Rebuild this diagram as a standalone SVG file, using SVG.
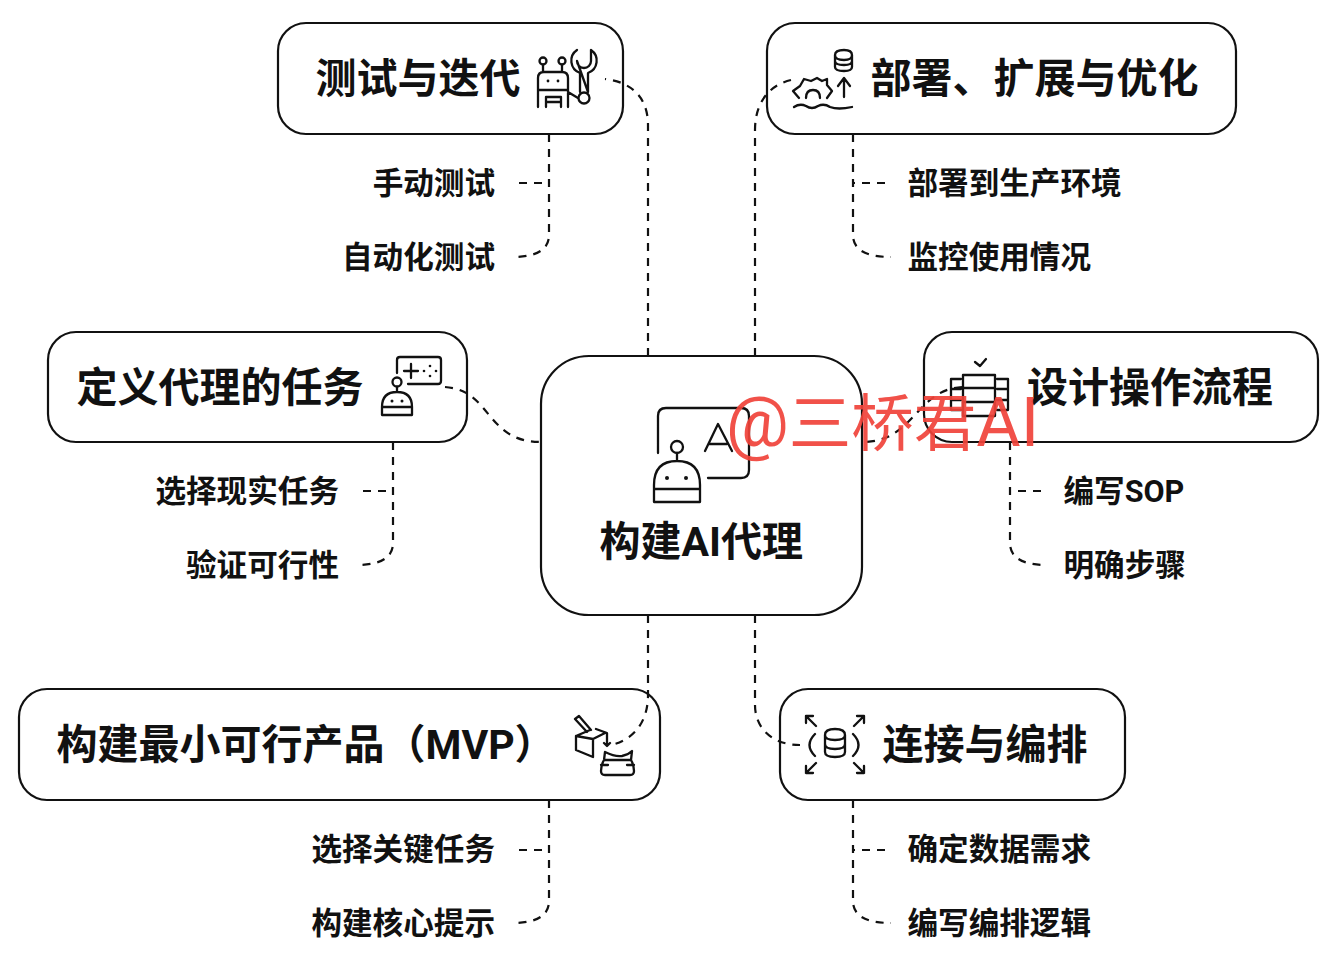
<svg xmlns="http://www.w3.org/2000/svg" width="1334" height="966" viewBox="0 0 1334 966">
<style>
.box{fill:#fff;stroke:#111;stroke-width:2.2}
.dash{fill:none;stroke:#111;stroke-width:2.2;stroke-dasharray:8 7}
.ic{fill:none;stroke:#111;stroke-width:2.3;stroke-linecap:round;stroke-linejoin:round}
.dot{fill:#111}
text{font-family:"Roboto","Noto Sans CJK SC",sans-serif;fill:#111}
.t{font-size:41px;font-weight:700}
.l{font-size:30.6px;font-weight:700}
.wm{font-family:"Roboto","Noto Sans CJK SC",sans-serif;font-size:62.500px;font-weight:400;fill:#f0433a;opacity:.92}
</style>
<rect width="1334" height="966" fill="#fff"/>
<g id="n-test"><rect class="box" x="278" y="23" width="345" height="111" rx="28"/><text class="t" x="315.500" y="93">测试与迭代</text>
<g class="ic"><circle cx="543" cy="61" r="3.500"/><circle cx="562" cy="61" r="3.500"/><path d="M543 65V72M562 65V72M538 107V78Q538 72 544 72H562Q568 72 568 78V107M538 90H568M546 107V97H561V107M546 102H561M568 92L578 98"/><circle cx="584" cy="98" r="5.500"/><path d="M577 50A13 13 0 0 0 580 73V92M588 92V73A13 13 0 0 0 591 50V61A7 7 0 0 1 577 61Z"/></g>
<circle class="dot" cx="548" cy="81" r="1.400"/><circle class="dot" cx="558" cy="81" r="1.400"/></g>
<g id="n-deploy"><rect class="box" x="767" y="23" width="469" height="111" rx="28"/><text class="t" x="870.500" y="93">部署、扩展与优化</text>
<g class="ic"><path d="M835 55Q835 50 844 50Q852 50 852 55V67Q852 71 844 71Q835 71 835 67ZM835 55Q835 60 844 60Q852 60 852 55M835 61Q835 65 844 65Q852 65 852 61M844 97V79M838 86L844 78L850 86M794 107Q800 103 806 106Q812 110 818 106Q824 103 830 107Q838 110 852 107M799 98L793 91L800 86L804 79L811 81L817 78L822 81L827 79L827 85L832 91L827 98M806 98Q806 90 813 90Q820 90 820 98"/></g></g>
<g id="n-define"><rect class="box" x="48" y="332" width="419" height="110" rx="28"/><text class="t" x="76.500" y="402">定义代理的任务</text>
<g class="ic"><path d="M397 373V360Q397 357 400 357H438Q441 357 441 360V381Q441 384 438 384H408M404 371H418M411 364V378"/><circle cx="397" cy="382" r="4.500"/><path d="M397 387V392M382 415V407Q382 392 397 392Q412 392 412 407V415ZM382 407H412"/></g>
<circle class="dot" cx="392" cy="401" r="1.500"/><circle class="dot" cx="402" cy="401" r="1.500"/><circle class="dot" cx="424" cy="371" r="1.300"/><circle class="dot" cx="436" cy="371" r="1.300"/><circle class="dot" cx="430" cy="366" r="1.300"/><circle class="dot" cx="430" cy="376" r="1.300"/></g>
<g id="n-design"><rect class="box" x="924" y="332" width="394" height="110" rx="28"/><text class="t" x="1027" y="402">设计操作流程</text>
<g class="ic"><rect x="963" y="375" width="32" height="41"/><path d="M963 388H995M963 402H995M975 362L980 366L986 359M961 379H951V410H961M951 389H961M951 400H961M997 379H1008V410H997M997 389H1008M997 400H1008"/></g></g>
<g id="n-mvp"><rect class="box" x="19" y="689" width="641" height="111" rx="28"/><text class="t" x="56.500" y="759">构建最小可行产品（MVP）</text>
<g class="ic"><path d="M590 730L576 736V750L593 757V739L576 736M593 739L605 733M591 730L579 716L575 719L587 732M596 729L607 733V745M604 743L607 746L610 743M605 752Q615 757 622 756Q628 755 632 751L631 760Q634 765 634 771Q634 775 630 775H605Q601 775 601 771Q601 765 604 760ZM601 765H608M627 765H634M604 760H631"/></g></g>
<g id="n-connect"><rect class="box" x="780" y="689" width="345" height="111" rx="28"/><text class="t" x="882.500" y="759">连接与编排</text>
<g class="ic"><path d="M825 735Q825 729 835 729Q845 729 845 735V752Q845 757 835 757Q825 757 825 752ZM825 735Q825 740 835 740Q845 740 845 735M825 744Q825 749 835 749Q845 749 845 744M815 734Q804 745 815 756M853 734Q864 745 853 756M806 716L816 726M806 716V723M806 716H813M864 716L854 726M864 716V723M864 716H857M806 773L816 763M806 773V766M806 773H813M864 773L854 763M864 773V766M864 773H857"/></g></g>
<g id="n-center"><rect class="box" x="541" y="356" width="321" height="259" rx="48"/><text class="t" x="599.500" y="556">构建AI代理</text>
<g class="ic"><path d="M658 453V416Q658 408 666 408H741Q749 408 749 416V470Q749 478 741 478H708M705 451L718 424L732 451M709 444H727"/><circle cx="677" cy="447" r="6"/><path d="M677 453V461M654 502V485Q654 461 677 461Q700 461 700 485V502ZM654 489H700"/></g>
<circle class="dot" cx="667" cy="478" r="2"/><circle class="dot" cx="686" cy="478" r="2"/></g>
<g id="connectors">
<path class="dash" d="M648 356V125C648 98 632 82 605 79"/>
<path class="dash" d="M755 356V130C755 100 772 82 797 79"/>
<path class="dash" d="M445 387C492 390 485 442 541 442"/>
<path class="dash" d="M962 387C915 390 915 442 862 442"/>
<path class="dash" d="M648 615V695C648 722 634 738 615 744"/>
<path class="dash" d="M755 615V705C755 728 772 745 800 745"/>
<path class="dash" d="M549 134V235Q549 257 512 257"/><path class="dash" d="M519 183H549"/>
<path class="dash" d="M853 134V235Q853 257 891 257"/><path class="dash" d="M885 183H853"/>
<path class="dash" d="M393 442V543Q393 565 356 565"/><path class="dash" d="M363 491H393"/>
<path class="dash" d="M1010 442V543Q1010 565 1047 565"/><path class="dash" d="M1041 491H1010"/>
<path class="dash" d="M549 800V901Q549 923 512 923"/><path class="dash" d="M519 850H549"/>
<path class="dash" d="M853 800V901Q853 923 891 923"/><path class="dash" d="M885 850H853"/>
</g>
<g id="leaves">
<text class="l" x="495" y="194" text-anchor="end">手动测试</text>
<text class="l" x="495" y="268" text-anchor="end">自动化测试</text>
<text class="l" x="907.500" y="194">部署到生产环境</text>
<text class="l" x="907.500" y="268">监控使用情况</text>
<text class="l" x="339" y="502" text-anchor="end">选择现实任务</text>
<text class="l" x="339" y="576" text-anchor="end">验证可行性</text>
<text class="l" x="1063.500" y="502">编写SOP</text>
<text class="l" x="1063.500" y="576">明确步骤</text>
<text class="l" x="495" y="860" text-anchor="end">选择关键任务</text>
<text class="l" x="495" y="934" text-anchor="end">构建核心提示</text>
<text class="l" x="907.500" y="860">确定数据需求</text>
<text class="l" x="907.500" y="934">编写编排逻辑</text>
</g>
<text class="wm" x="726" y="446"><tspan font-size="70">@</tspan>三桥君<tspan font-size="68">AI</tspan></text>
</svg>
